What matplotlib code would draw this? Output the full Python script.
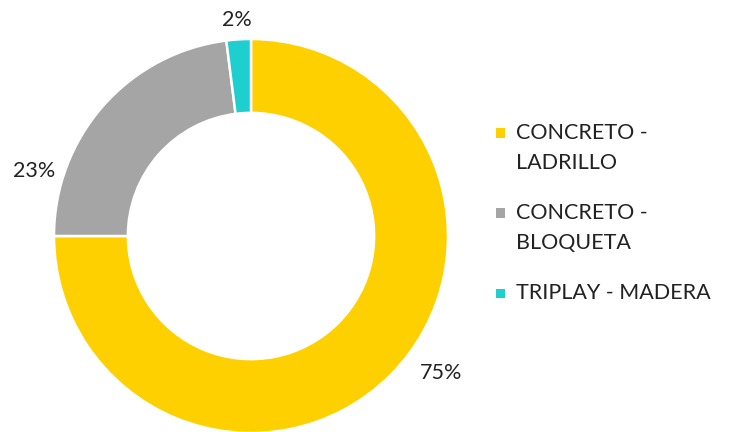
import numpy as np
import matplotlib
matplotlib.use("Agg")
from matplotlib import pyplot as plt
from matplotlib.patches import Rectangle

plt.rcParams['font.family'] = ['Lato', 'DejaVu Sans']

# data
categories = ["CONCRETO -\nLADRILLO", "CONCRETO -\nBLOQUETA", "TRIPLAY - MADERA"]
values = [75, 23, 2]
colors = ["#FFD000", "#A5A5A5", "#1ECFCF"]

W, H = 732, 432
fig = plt.figure(figsize=(W / 100, H / 100), dpi=100)

# pie axes, in pixels: centre (251, 236), radius 197
cx, cy, r = 251, 236, 197
ax = fig.add_axes([(cx - r) / W, (H - cy - r) / H, 2 * r / W, 2 * r / H])

wedges, _ = ax.pie(values, colors=colors, startangle=90, counterclock=False,
                   radius=1, wedgeprops=dict(width=0.375, edgecolor="white", linewidth=1.8))
ax.set_xlim(-1, 1)
ax.set_ylim(-1, 1)
ax.axis("off")

# percent labels (angle in degrees, distance in radius units)
label_pos = [(-35.8, 1.19), (163.3, 1.15), (93.7, 1.10)]
for v, (ang, dist) in zip(values, label_pos):
    a = np.deg2rad(ang)
    ax.text(dist * np.cos(a), dist * np.sin(a), f"{v}%", ha="center", va="center",
            fontsize=15.5, color="#222222", clip_on=False)

# legend drawn by hand
leg_x, leg_y = 496, 133
item_gap = 80
line_gap = 30
for i, (cat, col) in enumerate(zip(categories, colors)):
    y = leg_y + i * item_gap
    fig.add_artist(Rectangle((leg_x / W, (H - y - 4.5) / H), 9 / W, 9 / H,
                             transform=fig.transFigure, facecolor=col, edgecolor="none"))
    for j, line in enumerate(cat.split("\n")):
        fig.text(516 / W, (H - y - j * line_gap) / H, line, ha="left", va="center",
                 fontsize=15.5, color="#222222")

fig.savefig("out.png", dpi=100)
